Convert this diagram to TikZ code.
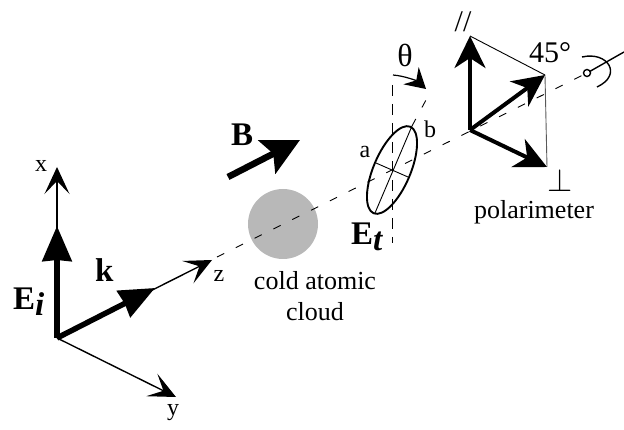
\documentclass[tikz,border=0pt]{standalone}
\usepackage{amsmath,amssymb}
\usepackage{fontspec}
\setmainfont{Liberation Serif}
\usepackage{tikz}
\usetikzlibrary{arrows.meta}
\tikzset{
	thinarrow/.style={line width=1.4pt, -{Stealth[length=27pt, width=25pt, inset=13pt]}},
	thickarrow/.style={line width=5.5pt, -{Stealth[length=35pt, width=29pt, inset=1pt]}},
	polarrow/.style={line width=4pt, -{Stealth[length=32pt, width=31pt, inset=10pt]}},
	thinline/.style={line width=0.9pt},
	dashline/.style={line width=0.9pt, dash pattern=on 8pt off 13pt},
	label/.style={font=\fontsize{24}{26}\selectfont, inner sep=0pt},
	bigbold/.style={font=\fontsize{33}{35}\selectfont\bfseries, inner sep=0pt, anchor=base west},
}
\begin{document}
\begin{tikzpicture}[x=1pt, y=-1pt]
	\useasboundingbox (0,0) rectangle (624,430);
	% axes and beam
	\coordinate (origin) at (57,338);
	\coordinate (xtip) at (57,167);
	\coordinate (ytip) at (176,397);
	\coordinate (ztip) at (212,260);
	\coordinate (itip) at (57,226);
	\coordinate (ktip) at (155,288);
	\coordinate (zstart) at (217,257);
	\coordinate (eye) at (587,73);
	% cloud
	\fill[black!28] (283,224) circle (35);
	\draw[dashline] (zstart) -- (eye);
	\draw[thinarrow] (origin) -- (xtip);
	\draw[thinarrow] (origin) -- (ytip);
	\draw[thinarrow] (origin) -- (ztip);
	\draw[thickarrow] (origin) -- (itip);
	\draw[thickarrow] (origin) -- (ktip);
	\coordinate (bstart) at (228,177);
	\coordinate (btip) at (300,140);
	\draw[line width=6.5pt, -{Stealth[length=37pt, width=37pt, inset=7pt]}] (bstart) -- (btip);
	% ellipse
	\coordinate (centre) at (392,170);
	\draw[line width=1.9pt, rotate around={67:(centre)}] (centre) ellipse (47 and 18.5);
	\coordinate (vtop) at (392,85);
	\coordinate (vbot) at (392,243);
	\coordinate (ttop) at (426,100);
	\coordinate (majtop) at (412,126);
	\coordinate (majbot) at (375,213);
	\coordinate (mintop) at (376,163);
	\coordinate (minbot) at (408,177);
	\draw[thinline] (majtop) -- (majbot);
	\draw[thinline] (mintop) -- (minbot);
	\draw[dashline, dash pattern=on 11pt off 8pt] (vtop) -- (vbot);
	\draw[dashline] (majtop) -- (ttop);
	\coordinate (astart) at (393,75);
	\coordinate (aend) at (426,89);
	\draw[line width=1.2pt, -{Stealth[length=20pt, width=23pt, inset=7pt]}] (astart) .. controls (405,76) and (417,81) .. (aend);
	% polarimeter
	\coordinate (pol) at (470,130);
	\coordinate (paral) at (470,36);
	\coordinate (diag) at (545,75);
	\coordinate (perp) at (547,167);
	\draw[thinline] (paral) -- (diag);
	\draw[thinline, black!65] (diag) -- (perp);
	\draw[polarrow] (pol) -- (paral);
	\draw[polarrow] (pol) -- (diag);
	\draw[polarrow] (pol) -- (perp);
	% eye
	\coordinate (eyeend) at (624,52);
	\draw[line width=1.4pt] (eye) -- (eyeend);
	\draw[line width=1.4pt, fill=white] (eye) circle (3.5);
	\draw[line width=1.4pt] (582,57) .. controls (608,51) and (623,75) .. (597,87);
	% labels
	\node[label] (xlabel) at (41,166) {x};
	\node[label] (ylabel) at (173,413) {y};
	\node[label] (zlabel) at (219,276) {z};
	\node[bigbold] (klabel) at (95,282) {k};
	\node[bigbold] (ilabel) at (13,310) {E\raisebox{-6pt}{\textit{i}}};
	\node[bigbold] (blabel) at (231,146) {B};
	\node[bigbold] (tlabel) at (351,245) {E\raisebox{-6pt}{\textit{t}}};
	\node[label] (alabel) at (365,152) {a};
	\node[label] (blabelb) at (430,129) {b};
	\node[label, font=\fontsize{32}{34}\selectfont] (thetalabel) at (405,55) {θ};
	\node[label, align=center, font=\fontsize{26}{31}\selectfont] (cloudlabel) at (315,296) {cold atomic\\cloud};
	\node[label, font=\fontsize{26}{28}\selectfont] (pollabel) at (534,212) {polarimeter};
	\node[label, font=\fontsize{30}{32}\selectfont] (anglelabel) at (550,53) {45°};
	\node[label, font=\fontsize{30}{32}\selectfont] (parlabel) at (463,22) {//};
	\node[label] (perplabel) at (560,180) {\scalebox{1.3}{$\perp$}};
\end{tikzpicture}
\end{document}
